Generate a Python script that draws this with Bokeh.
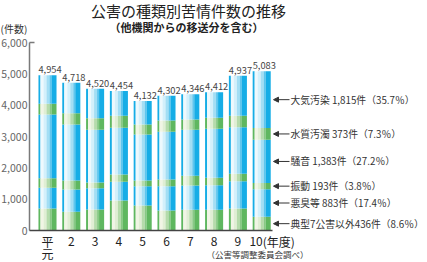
from bokeh.plotting import figure
from bokeh.models import Range1d, Arrow, NormalHead
from bokeh.core.properties import value
from bokeh.embed import file_html
from bokeh.resources import INLINE

# ---- data ----
years = ["平", "2", "3", "4", "5", "6", "7", "8", "9", "10"]
totals = [4954, 4718, 4520, 4454, 4132, 4302, 4346, 4412, 4937, 5083]
other7 = [702, 596, 670, 957, 798, 638, 660, 660, 702, 436]       # 典型7公害以外
odor = [660, 713, 681, 596, 617, 777, 776, 787, 872, 883]         # 悪臭等
vibration = [307, 287, 181, 234, 181, 213, 309, 234, 235, 193]    # 振動
noise = [2033, 1787, 1682, 1490, 1468, 1521, 1468, 1564, 1489, 1383]  # 騒音
water = [342, 361, 371, 383, 319, 362, 330, 351, 362, 373]        # 水質汚濁
air = [910, 974, 935, 794, 749, 791, 803, 816, 1277, 1815]        # 大気汚染
series = [other7, odor, vibration, noise, water, air]
series_kind = ["g", "b", "g", "b", "g", "b"]
right_labels = [
    "典型7公害以外436件（8.6％）",
    "悪臭等 883件（17.4％）",
    "振動 193件（3.8％）",
    "騒音 1,383件（27.2％）",
    "水質汚濁 373件（7.3％）",
    "大気汚染 1,815件（35.7％）",
]
y_ticks = [0, 1000, 2000, 3000, 4000, 5000, 6000]

FONT = "Noto Sans CJK JP"
F = value(FONT)

# ---- geometry (frame = whole canvas; scales map data to pixels) ----
W, H = 427, 262
AX_L, AX_R, AX_T, AX_B = 29, 272, 42, 230
PITCH, FIRST = 23.8, 47
YMAX = 6000
x0 = -FIRST / PITCH
x1 = (W - FIRST) / PITCH
ppu = (AX_B - AX_T) / YMAX
y0 = -(H - AX_B) / ppu
y1 = AX_B / ppu


def px2x(px):
    return (px - FIRST) / PITCH


def px2y(py):
    return (AX_B - py) / ppu


p = figure(width=W, height=H, output_backend="svg", toolbar_location=None,
           x_range=Range1d(x0, x1), y_range=Range1d(y0, y1),
           x_axis_location=None, y_axis_location=None,
           min_border=0, min_border_left=0, min_border_right=0,
           min_border_top=0, min_border_bottom=0)
p.outline_line_color = None
p.grid.visible = False
p.background_fill_color = "white"
p.border_fill_color = "white"

# ---- striped bars ----
BAR_PX = 18
stripes = [(0, 2, 0), (2, 5, 1), (5, 8, 2), (8, 11, 3), (11, 13, 4), (13, 18, 0)]
pal = {
    "b": ["#16ade6", "#eef9fd", "#d3f0fb", "#a3def4", "#5fc6ee"],
    "g": ["#5fb760", "#f1f5e5", "#e0eed4", "#b5dbab", "#88c985"],
}
unit = 1 / PITCH
n = len(years)
bottoms = [0] * n
for s, kind in zip(series, series_kind):
    tops = [b + v for b, v in zip(bottoms, s)]
    for a, b_, ci in stripes:
        cx = [i + (-BAR_PX / 2 + (a + b_) / 2) * unit for i in range(n)]
        p.vbar(x=cx, width=(b_ - a) * unit + unit * 0.05, bottom=bottoms, top=tops,
               fill_color=pal[kind][ci], line_color=None)
    bottoms = tops

# ---- axes ----
p.segment(x0=[px2x(AX_L)], y0=[0], x1=[px2x(AX_L)], y1=[YMAX], line_color="#7a7a7a", line_width=1.5)
p.segment(x0=[px2x(AX_L)], y0=[YMAX], x1=[px2x(AX_L + 5)], y1=[YMAX], line_color="#7a7a7a", line_width=1.5)
p.segment(x0=[px2x(AX_L)], y0=[0], x1=[px2x(AX_R)], y1=[0], line_color="#444444", line_width=1.5)

p.text(x=[px2x(AX_L - 2)] * len(y_ticks), y=y_ticks, text=[f"{t:,}" for t in y_ticks],
       text_font=F, text_font_size="10.5px", text_color="#666666",
       text_align="right", text_baseline="middle")

p.text(x=list(range(n - 1)), y=[px2y(240.5)] * (n - 1), text=years[:-1], text_font=F,
       text_font_size="12px", text_color="#222222", text_align="center", text_baseline="middle")
p.text(x=[n - 1 + 1 * unit], y=[px2y(240.5)], text=[years[-1]], text_font=F,
       text_font_size="12px", text_color="#222222", text_align="right", text_baseline="middle")
p.text(x=[0], y=[px2y(253)], text=["元"], text_font=F, text_font_size="12px",
       text_color="#222222", text_align="center", text_baseline="middle")
p.text(x=[n - 1 + 1 * unit], y=[px2y(240.5)], text=["(年度)"], text_font=F,
       text_font_size="12px", text_color="#222222", text_align="left", text_baseline="middle")

# value labels above each bar
p.text(x=[i - 0.38 for i in range(n)], y=[t + 60 for t in totals],
       text=[f"{t:,}" for t in totals], text_font=F, text_font_size="9.3px",
       text_color="#444444", text_align="left", text_baseline="bottom")

# right annotations with arrows (pointing at the last bar's segments)
cum = 0
mids = []
for s in series:
    mids.append(cum + s[-1] / 2)
    cum += s[-1]
for mid in mids:
    p.add_layout(Arrow(end=NormalHead(size=5, fill_color="#333333", line_color="#333333"),
                       x_start=px2x(289), y_start=mid, x_end=px2x(273), y_end=mid,
                       line_color="#333333", line_width=1))
p.text(x=[px2x(290)] * len(mids), y=mids, text=right_labels, text_font=F,
       text_font_size="9.8px", text_color="#333333", text_align="left", text_baseline="middle")

# titles and notes
p.text(x=[px2x(188)], y=[px2y(10)], text=["公害の種類別苦情件数の推移"], text_font=F,
       text_font_size="15px", text_color="#222222", text_align="center", text_baseline="middle")
p.text(x=[px2x(186)], y=[px2y(26)], text=["（他機関からの移送分を含む）"], text_font=F,
       text_font_size="11px", text_font_style="bold", text_color="#222222",
       text_align="center", text_baseline="middle")
p.text(x=[px2x(0)], y=[px2y(28)], text=["(件数)"], text_font=F, text_font_size="10px",
       text_color="#333333", text_align="left", text_baseline="middle")
p.text(x=[px2x(206)], y=[px2y(253)], text=["（公害等調整委員会調べ）"], text_font=F,
       text_font_size="8.5px", text_color="#333333", text_align="left", text_baseline="middle")

open("out.html", "w").write(file_html(p, INLINE))
